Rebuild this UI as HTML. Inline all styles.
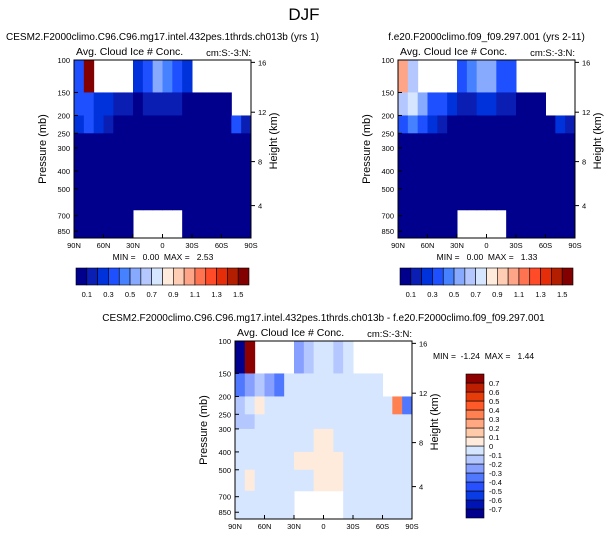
<!DOCTYPE html>
<html><head><meta charset="utf-8"><style>
html,body{margin:0;padding:0;background:#fff;}
body{width:609px;height:538px;overflow:hidden;font-family:"Liberation Sans",sans-serif;}
svg text{font-family:"Liberation Sans",sans-serif;fill:#000;white-space:pre;}
</style></head><body>
<svg id="chart" width="609" height="538" viewBox="0 0 609 538" xmlns="http://www.w3.org/2000/svg">
<text x="304" y="20" font-size="17" text-anchor="middle">DJF</text>
</svg>
<script>
const latEdges=[90,80,70,60,50,40,30,20,10,0,-10,-20,-30,-40,-50,-60,-70,-80,-90];
const presEdges=[100,150,200,250,300,400,500,650,925];
const yTickVals=[100,150,200,250,300,400,500,700,850];
const xTickVals=[90,60,30,0,-30,-60,-90];
const xTickLabels=["90N","60N","30N","0","30S","60S","90S"];
const hTickVals=[16,12,8,4];
const hTickPres=[103,192,356,617];
const N=null;
const dataA=[
[0.3,1.6,N,N,N,N,0.25,0.35,0.5,0.45,0.35,0.25,N,N,N,N,N,N],
[0.3,0.35,0.25,0.2,0.15,0.15,0.05,0.15,0.15,0.15,0.15,0.05,0.05,0.05,0.05,0.05,N,N],
[0.2,0.3,0.2,0.15,0.05,0.05,0.05,0.05,0.05,0.05,0.05,0.05,0.05,0.05,0.05,0.05,0.3,0.15],
[0.05,0.05,0.05,0.05,0.05,0.05,0.05,0.05,0.05,0.05,0.05,0.05,0.05,0.05,0.05,0.05,0.05,0.05],
[0.05,0.05,0.05,0.05,0.05,0.05,0.05,0.05,0.05,0.05,0.05,0.05,0.05,0.05,0.05,0.05,0.05,0.05],
[0.05,0.05,0.05,0.05,0.05,0.05,0.05,0.05,0.05,0.05,0.05,0.05,0.05,0.05,0.05,0.05,0.05,0.05],
[0.05,0.05,0.05,0.05,0.05,0.05,0.05,0.05,0.05,0.05,0.05,0.05,0.05,0.05,0.05,0.05,0.05,0.05],
[0.05,0.05,0.05,0.05,0.05,0.05,N,N,N,N,N,0.05,0.05,0.05,0.05,0.05,0.05,0.05]];
const dataB=[
[1.0,0.6,N,N,N,N,0.3,0.4,0.55,0.5,0.35,0.3,N,N,N,N,N,N],
[0.6,0.7,0.5,0.35,0.3,0.25,0.15,0.15,0.2,0.2,0.15,0.1,0.05,0.05,0.05,N,N,N],
[0.35,0.4,0.3,0.25,0.15,0.05,0.05,0.05,0.05,0.05,0.05,0.05,0.05,0.05,0.05,0.05,0.2,0.15],
[0.05,0.05,0.05,0.05,0.05,0.05,0.05,0.05,0.05,0.05,0.05,0.05,0.05,0.05,0.05,0.05,0.05,0.05],
[0.05,0.05,0.05,0.05,0.05,0.05,0.05,0.05,0.05,0.05,0.05,0.05,0.05,0.05,0.05,0.05,0.05,0.05],
[0.05,0.05,0.05,0.05,0.05,0.05,0.05,0.05,0.05,0.05,0.05,0.05,0.05,0.05,0.05,0.05,0.05,0.05],
[0.05,0.05,0.05,0.05,0.05,0.05,0.05,0.05,0.05,0.05,0.05,0.05,0.05,0.05,0.05,0.05,0.05,0.05],
[0.05,0.05,0.05,0.05,0.05,0.05,N,N,N,N,N,0.05,0.05,0.05,0.05,0.05,0.05,0.05]];
const dataD=[
[-0.9,0.8,N,N,N,N,-0.3,-0.15,-0.1,-0.1,-0.15,-0.05,N,N,N,N,N,N],
[-0.4,-0.3,-0.15,-0.3,-0.35,-0.1,-0.05,-0.05,-0.05,-0.05,-0.05,-0.05,-0.05,-0.05,-0.05,N,N,N],
[-0.15,-0.1,0.05,-0.1,-0.05,-0.05,-0.05,-0.05,-0.05,-0.05,-0.05,-0.05,-0.05,-0.05,-0.05,-0.05,0.3,-0.4],
[-0.15,-0.15,-0.1,-0.05,-0.05,-0.05,-0.05,-0.05,-0.05,-0.05,-0.05,-0.05,-0.05,-0.05,-0.05,-0.05,-0.05,-0.05],
[-0.05,-0.05,-0.05,-0.05,-0.05,-0.05,-0.05,-0.05,0.05,0.05,-0.05,-0.05,-0.05,-0.05,-0.05,-0.05,-0.05,-0.05],
[-0.05,-0.05,-0.05,-0.05,-0.05,-0.05,0.05,0.05,0.05,0.05,0.05,-0.05,-0.05,-0.05,-0.05,-0.05,-0.05,-0.05],
[-0.05,0.05,-0.05,-0.05,-0.05,-0.05,-0.05,-0.05,0.05,0.05,0.05,-0.05,-0.05,-0.05,-0.05,-0.05,-0.05,-0.05],
[-0.05,-0.05,-0.05,-0.05,-0.05,-0.05,N,N,N,N,N,-0.05,-0.05,-0.05,-0.05,-0.05,-0.05,-0.05]];
const levelsA=[0.1,0.2,0.3,0.4,0.5,0.6,0.7,0.8,0.9,1.0,1.1,1.2,1.3,1.4,1.5];
const levelsD=[-0.7,-0.6,-0.5,-0.4,-0.3,-0.2,-0.1,0,0.1,0.2,0.3,0.4,0.5,0.6,0.7];
const colorsA=["#00008c","#0a1eb4","#0032dc","#1e50ff","#4682ff","#87aaff","#b4c8ff","#d7e6ff","#ffebdc","#ffcdb4","#ffa587","#ff7350","#ff4b28","#e62d0a","#b41e00","#820000"];
const colorsD=["#00008c","#0014b4","#0a3ce6","#2850ff","#5078ff","#87a0ff","#b4c8ff","#d7e6ff","#ffebdc","#ffcaaa","#ffa882","#ff8050","#ff5a28","#e63c0a","#be1e00","#8c0000"];
const svg=document.getElementById('chart');
const NS="http://www.w3.org/2000/svg";
function el(tag,attrs,parent){const e=document.createElementNS(NS,tag);for(const k in attrs)e.setAttribute(k,attrs[k]);(parent||svg).appendChild(e);return e;}
function colorFor(v,lev,cols){let i=0;while(i<lev.length&&v>=lev[i])i++;return cols[i];}
function panel(px,py,data,lev,cols,name,title){
  const W=177,H=178,pTop=100,pBot=925;
  const xs=lat=>px+(90-lat)/180*W;
  const ys=p=>py+(Math.log10(p)-Math.log10(pTop))/(Math.log10(pBot)-Math.log10(pTop))*H;
  const g=el('g',{});
  
  
  for(let r=0;r<data.length;r++)for(let c=0;c<data[r].length;c++){
    const v=data[r][c]; if(v===null)continue;
    const x0=xs(latEdges[c]),x1=xs(latEdges[c+1]),y0=ys(presEdges[r]),y1=ys(presEdges[r+1]);
    const rc=el('rect',{x:x0,y:y0,width:x1-x0+0.5,height:y1-y0+0.5,fill:colorFor(v,lev,cols)},g);
    
    
  }
  const fr=el('rect',{x:px,y:py,width:W,height:H,fill:'none',stroke:'#000','stroke-width':1},g);
  
  
  yTickVals.forEach(p=>{const y=ys(p);el('line',{x1:px,x2:px+4,y1:y,y2:y,stroke:'#000'},g);
    const t=el('text',{x:px-4,y:y+3,'font-size':7.5,'text-anchor':'end'},g);t.textContent=p;
    });
  xTickVals.forEach((l,i)=>{const x=xs(l);el('line',{x1:x,x2:x,y1:py+H,y2:py+H-4,stroke:'#000'},g);
    const t=el('text',{x:x,y:py+H+10,'font-size':7.5,'text-anchor':'middle'},g);t.textContent=xTickLabels[i];
    });
  hTickVals.forEach((h,i)=>{const y=ys(hTickPres[i]);el('line',{x1:px+W,x2:px+W+4,y1:y,y2:y,stroke:'#000'},g);
    const t=el('text',{x:px+W+7,y:y+3,'font-size':7.5},g);t.textContent=h;
    });
  let t=el('text',{x:px-28,y:py+H/2,'font-size':11,'text-anchor':'middle',transform:`rotate(-90 ${px-28} ${py+H/2})`},g);t.textContent='Pressure (mb)';
  
  t=el('text',{x:px+W+26,y:py+H/2-8,'font-size':11,'text-anchor':'middle',transform:`rotate(-90 ${px+W+26} ${py+H/2-8})`},g);t.textContent='Height (km)';
  
  t=el('text',{x:px+2,y:py-5,'font-size':10.5},g);t.textContent='Avg. Cloud Ice # Conc.';
  
  t=el('text',{x:px+W,y:py-4,'font-size':9.5,'text-anchor':'end'},g);t.textContent='cm:S:-3:N:';
  
  t=el('text',{x:px+W/2,y:py-20,'font-size':10,'text-anchor':'middle'},g);t.textContent=title;
  
}
function hbar(x,y,name){
  const g=el('g',{});
  
  
  const w=173/colorsA.length;
  colorsA.forEach((c,i)=>{const r=el('rect',{x:x+i*w,y:y,width:w,height:17,fill:c,stroke:'#000','stroke-width':0.6},g);
    });
  levelsA.forEach((l,i)=>{if(i%2)return;const t=el('text',{x:x+(i+1)*w,y:y+29,'font-size':7.5,'text-anchor':'middle'},g);t.textContent=l.toFixed(1);
    });
}
function vbar(x,y){
  const g=el('g',{});
  
  
  const h=144/colorsD.length;
  colorsD.forEach((c,i)=>{const r=el('rect',{x:x,y:y+144-(i+1)*h,width:18,height:h,fill:c,stroke:'#000','stroke-width':0.6},g);
    });
  levelsD.forEach((l,i)=>{const t=el('text',{x:x+23,y:y+144-(i+1)*h+3,'font-size':7.5},g);t.textContent=l===0?'0':l.toFixed(1);
    });
}
panel(74,60,dataA,levelsA,colorsA,'panel-cesm2','CESM2.F2000climo.C96.C96.mg17.intel.432pes.1thrds.ch013b (yrs 1)');
panel(398,60,dataB,levelsA,colorsA,'panel-f-e20','f.e20.F2000climo.f09_f09.297.001 (yrs 2-11)');
panel(235,341,dataD,levelsD,colorsD,'panel-difference','CESM2.F2000climo.C96.C96.mg17.intel.432pes.1thrds.ch013b - f.e20.F2000climo.f09_f09.297.001');
hbar(76,268,'colorbar-left');
hbar(400,268,'colorbar-right');
vbar(466,374);
function txt(x,y,s,name,anchor){const t=el('text',{x:x,y:y,'font-size':8.5,'text-anchor':anchor||'middle'});t.textContent=s;
  }
txt(163,260,'MIN =   0.00  MAX =   2.53','minmax-left');
txt(487,260,'MIN =   0.00  MAX =   1.33','minmax-right');
txt(433,359,'MIN =  -1.24  MAX =   1.44','minmax-diff','start');
</script>
</body></html>
